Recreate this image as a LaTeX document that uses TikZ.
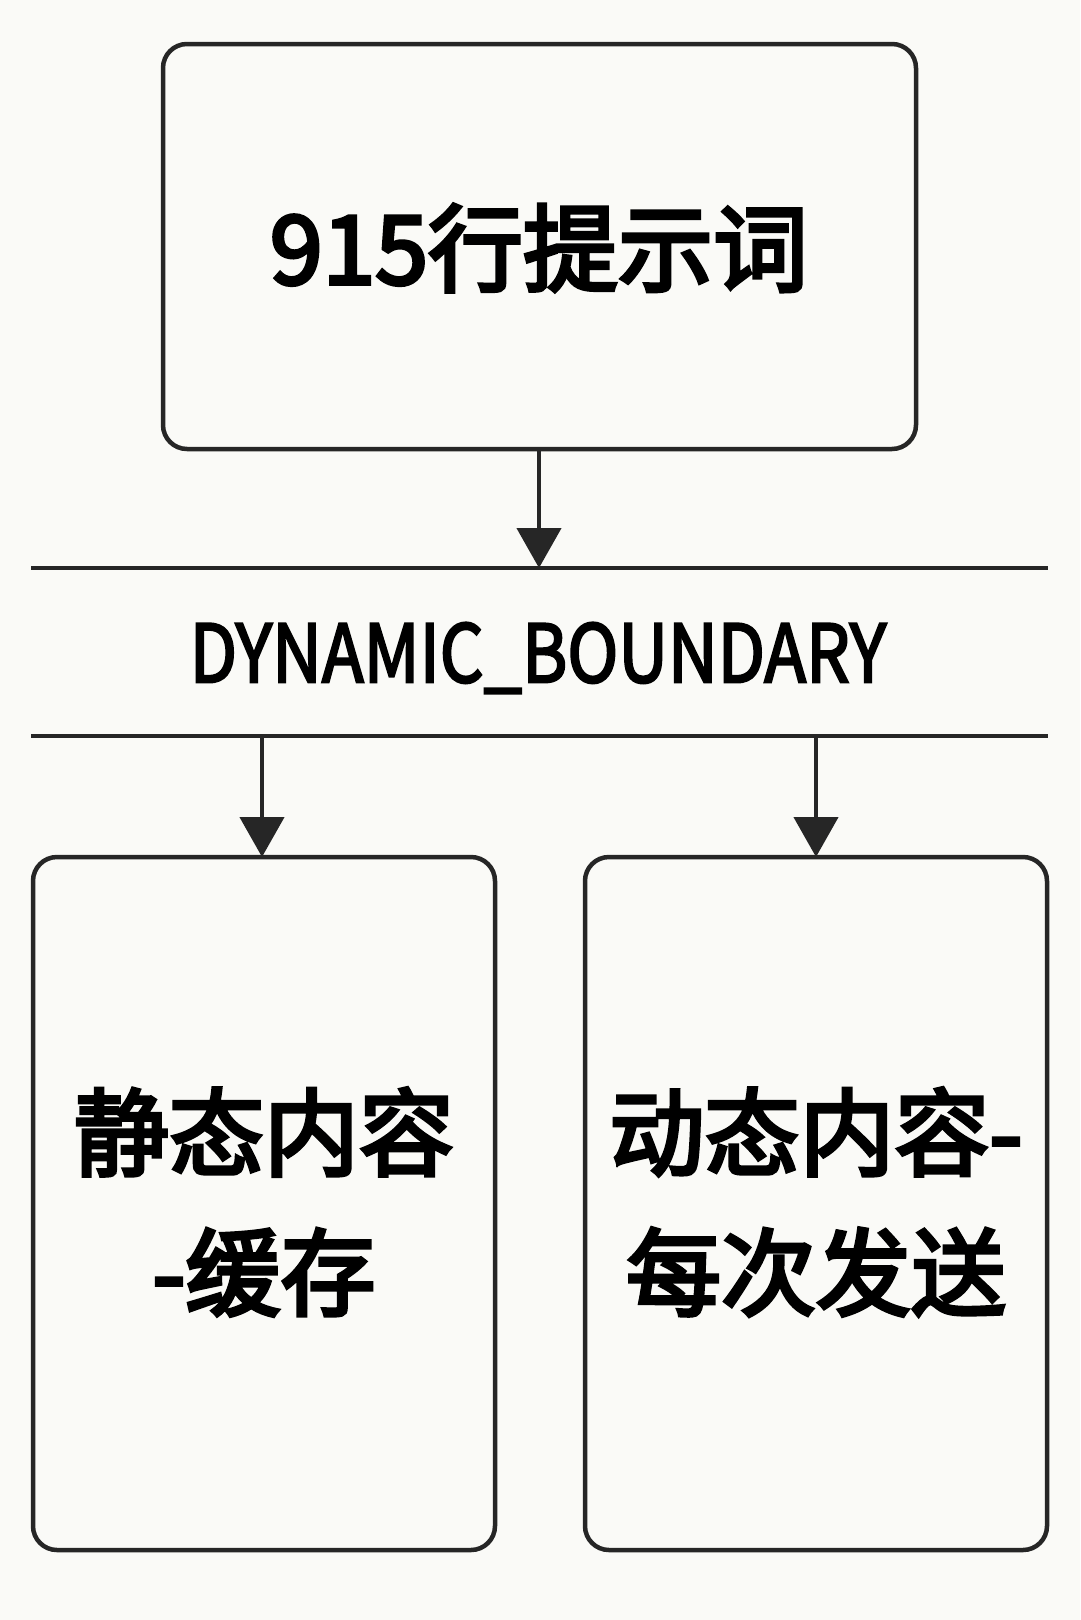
\documentclass[tikz,border=0pt]{standalone}
\usepackage{fontspec}
\setmainfont{Noto Sans CJK SC}
\newfontfamily\cjk[FakeBold=4]{Noto Sans CJK SC}
\newfontfamily\lat[FakeBold=3]{Noto Sans CJK SC}
\usetikzlibrary{arrows.meta}
\definecolor{bg}{HTML}{FAFAF7}
\definecolor{ink}{HTML}{262626}
\begin{document}
\begin{tikzpicture}[x=1pt,y=-1pt,
  box/.style={draw=ink,line width=4.5pt,rounded corners=24pt},
  conn/.style={draw=ink,line width=4.5pt,-{Triangle[width=44pt,length=40pt]}},
  sep/.style={draw=ink,line width=4pt},
  big/.style={font=\cjk\fontsize{95}{140}\selectfont,text=black,align=center,inner sep=0pt}]
\fill[bg] (0,0) rectangle (1080,1620);
\useasboundingbox (0,0) rectangle (1080,1620);
\draw[box] (163,44) rectangle (916,449);
\node[big] (top) at (539,248) {915行提示词};
\coordinate (topb) at (539,449);
\coordinate (l1a) at (31,568);
\coordinate (l1b) at (1048,568);
\coordinate (l2a) at (31,736);
\coordinate (l2b) at (1048,736);
\draw[sep] (l1a) -- (l1b);
\draw[sep] (l2a) -- (l2b);
\node[font=\lat\fontsize{80}{90}\selectfont,text=black,inner sep=0pt,xscale=0.86] (dyn) at (538,658) {DYNAMIC\_BOUNDARY};
\coordinate (a1) at (539,568);
\draw[conn] (topb) -- (a1);
\draw[box] (33,857) rectangle (495,1550);
\draw[box] (585,857) rectangle (1047,1550);
\coordinate (s1) at (262,736);
\coordinate (s2) at (816,736);
\coordinate (t1) at (262,857);
\coordinate (t2) at (816,857);
\draw[conn] (s1) -- (t1);
\draw[conn] (s2) -- (t2);
\node[big] (left) at (264,1202) {静态内容\\-缓存};
\node[big] (right) at (816,1202) {动态内容-\\每次发送};
\end{tikzpicture}
\end{document}
